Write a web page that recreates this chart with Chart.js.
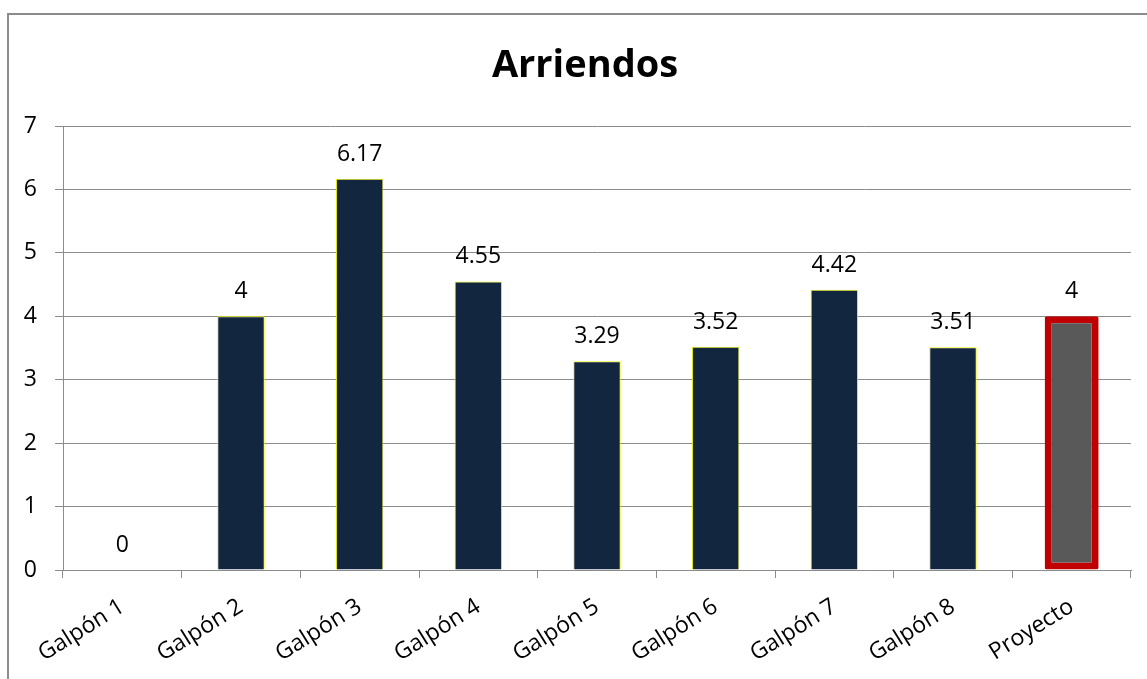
<!DOCTYPE html>
<html>
<head>
<meta charset="utf-8">
<script src="https://cdn.jsdelivr.net/npm/chart.js@4/dist/chart.umd.min.js"></script>
<style>
  html, body { margin: 0; padding: 0; background: #fff; overflow: hidden; }
  #frame {
    position: absolute; left: 7px; top: 13px; width: 1145px; height: 670px;
    border-top: 2px solid #8c8c8c; border-left: 2px solid #8c8c8c;
  }
  #wrap { position: absolute; left: 18px; top: 15px; width: 1129px; height: 664px; }
</style>
</head>
<body>
<div id="frame"></div>
<div id="wrap"><canvas id="c"></canvas></div>
<script>
// Rental figures per warehouse, plus the project's own figure
const titleText = 'Arriendos';
const categories = ['Galpón 1', 'Galpón 2', 'Galpón 3', 'Galpón 4', 'Galpón 5', 'Galpón 6', 'Galpón 7', 'Galpón 8', 'Proyecto'];
const values = [0, 4, 6.17, 4.55, 3.29, 3.52, 4.42, 3.51, 4];
const projectIndex = 8;
const yTicks = [0, 1, 2, 3, 4, 5, 6, 7];

const baseFont = '"Open Sans", "Liberation Sans", sans-serif';
const gridColor = '#8c8c8c';

// split the series so the project bar can carry its own width and outline
const warehouseValues = values.map((v, i) => (i === projectIndex ? null : v));
const projectValues = values.map((v, i) => (i === projectIndex ? v : null));

const valueLabels = {
  id: 'valueLabels',
  afterDatasetsDraw(chart) {
    const ctx = chart.ctx;
    const y = chart.scales.y;
    ctx.save();
    ctx.font = '23px ' + baseFont;
    ctx.fillStyle = '#000';
    ctx.textAlign = 'center';
    ctx.textBaseline = 'alphabetic';
    chart.data.datasets.forEach((ds, di) => {
      const meta = chart.getDatasetMeta(di);
      ds.data.forEach((v, i) => {
        if (v === null) return;
        const bar = meta.data[i];
        ctx.fillText(String(v), bar.x, y.getPixelForValue(v) - 18);
      });
    });
    ctx.restore();
  }
};

const plotTitle = {
  id: 'plotTitle',
  afterDraw(chart) {
    const ctx = chart.ctx;
    ctx.save();
    ctx.font = 'bold 38px ' + baseFont;
    ctx.fillStyle = '#000';
    ctx.textAlign = 'center';
    ctx.textBaseline = 'alphabetic';
    ctx.fillText(titleText, (chart.chartArea.left + chart.chartArea.right) / 2 - 12, 62);
    ctx.restore();
  }
};

new Chart(document.getElementById('c'), {
  type: 'bar',
  data: {
    labels: categories,
    datasets: [
      {
        data: warehouseValues,
        backgroundColor: '#132640',
        borderColor: '#f2f200',
        borderWidth: (c) => (c.raw ? 1 : 0),
        borderSkipped: 'start',
        barPercentage: 0.4,
        categoryPercentage: 1
      },
      {
        data: projectValues,
        backgroundColor: '#595959',
        borderColor: '#c00000',
        borderWidth: 7,
        borderSkipped: false,
        borderRadius: 2,
        barPercentage: 0.455,
        categoryPercentage: 1
      }
    ]
  },
  options: {
    responsive: true,
    maintainAspectRatio: false,
    animation: false,
    layout: { padding: { top: 111, left: 6, right: 16, bottom: 0 } },
    datasets: { bar: { grouped: false, skipNull: true } },
    plugins: {
      legend: { display: false },
      title: { display: false },
      tooltip: { enabled: false }
    },
    scales: {
      x: {
        offset: true,
        grid: { display: true, drawOnChartArea: false, color: gridColor, tickLength: 8, lineWidth: 1 },
        border: { color: gridColor, width: 1 },
        ticks: {
          font: { family: baseFont, size: 23 },
          color: '#000',
          minRotation: 32,
          maxRotation: 32,
          padding: 15,
          autoSkip: false
        },
        afterFit(scale) {
          scale.height = 109;
          // the slanted first label fits beside the value axis already
          scale.paddingLeft = 0;
          scale.paddingRight = 0;
        }
      },
      y: {
        min: 0,
        max: 7,
        afterBuildTicks(scale) { scale.ticks = yTicks.map((v) => ({ value: v })); },
        afterFit(scale) { scale.width = 39; },
        grid: { color: gridColor, tickLength: 8, lineWidth: 1 },
        border: { color: gridColor, width: 1 },
        ticks: {
          font: { family: baseFont, size: 23 },
          color: '#000',
          padding: 18
        }
      }
    }
  },
  plugins: [valueLabels, plotTitle]
});
</script>
</body>
</html>
